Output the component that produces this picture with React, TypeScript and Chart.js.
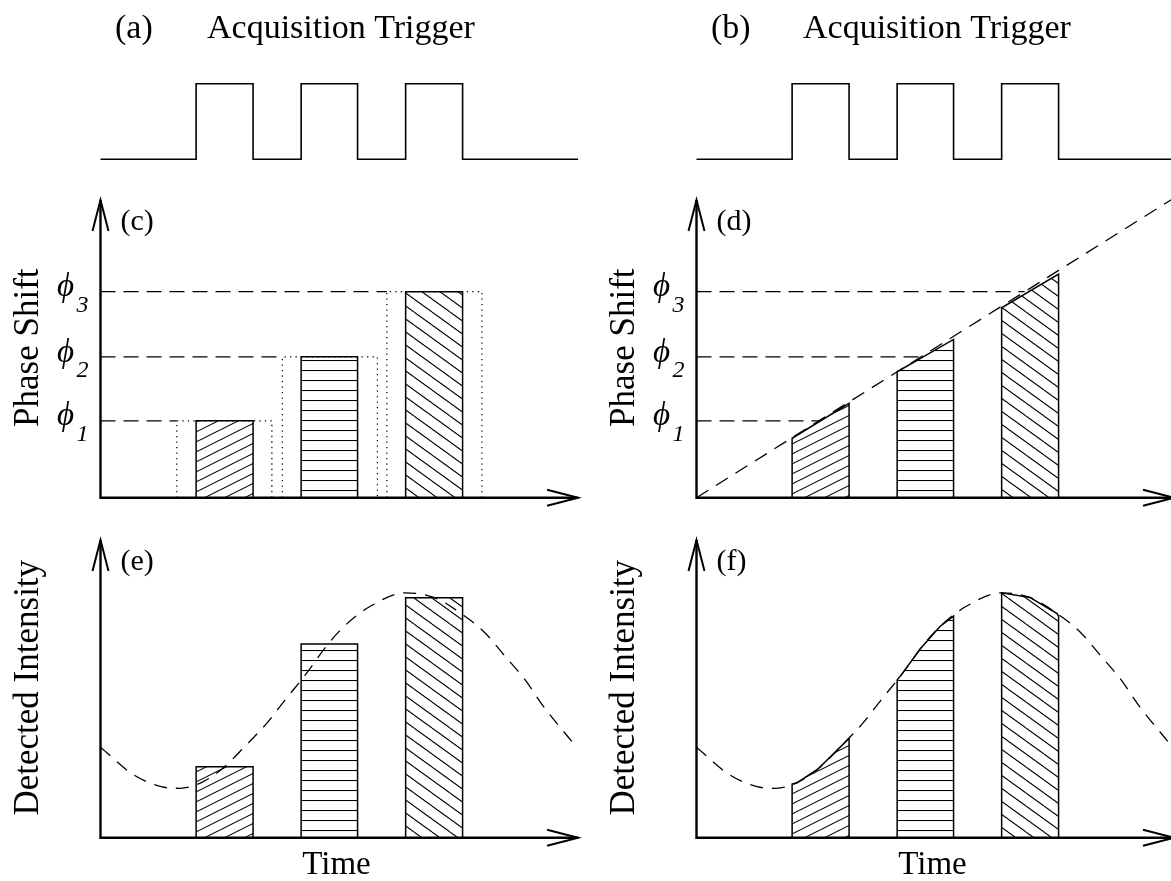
import React, { useEffect, useRef } from 'react';
import { Chart, registerables } from 'chart.js';

Chart.register(...registerables);

// ---------------- Data ----------------
const panelLetters = ['(a)', '(b)', '(c)', '(d)', '(e)', '(f)'];
const triggerTitle = 'Acquisition Trigger';
const phaseAxisTitle = 'Phase Shift';
const intensityAxisTitle = 'Detected Intensity';
const timeAxisTitle = 'Time';
const phaseSymbol = 'ϕ';
const phaseSubscripts = ['1', '2', '3'];

// acquisition trigger pulses (time units)
const pulseStart = [0.915, 1.92, 2.92];
const pulseEnd = [1.46, 2.46, 3.465];
const triggerEnd = 4.57;

// phase levels and (c) acquisition windows
const phaseLevels = [1.19, 2.18, 3.19];
const windowStart = [0.73, 1.74, 2.74];
const windowEnd = [1.64, 2.65, 3.65];

// (d) continuous phase ramp
const phaseRampT = [0, 4.57];
const phaseRampY = [0, 4.64];
const phaseRampCross = [1.17, 2.15, 3.14];
const rampTopStart = [0.92, 1.95, 2.94];
const rampTopEnd = [1.46, 2.45, 3.46];

// detected intensity curve
const curveT = [0.0, 0.32, 0.58, 0.76, 0.96, 1.16, 1.38, 1.59, 1.77, 1.96, 2.14, 2.33, 2.59, 2.92, 3.19, 3.45, 3.68, 3.86, 4.06, 4.24, 4.51];
const curveI = [1.40, 0.97, 0.79, 0.765, 0.85, 1.06, 1.41, 1.77, 2.14, 2.52, 2.92, 3.27, 3.59, 3.79, 3.72, 3.47, 3.17, 2.83, 2.45, 2.03, 1.49];

// (e) integrated intensities, (f) curve values at the pulse edges
const averagedIntensity = [1.10, 3.00, 3.715];
const edgeIntensityStart = [0.83, 2.44, 3.79];
const edgeIntensityEnd = [1.54, 3.43, 3.43];

const axisEndT = 4.57;
const axisEndY = 4.61;

// ---------------- Layout ----------------
const CANVAS_W = 1200;
const CANVAS_H = 881;
const COL_X = [100.5, 696.5];
const PX_T = 104.5;
const PX_Y = 64.6;
const X_MAX = 4.7;
const Y_MAX = 4.75;
const TRIG_LOW_Y = 159.3;
const TRIG_HIGH_Y = 83.7;
const PHASE_BASE_Y = 497.7;
const INT_BASE_Y = 837.7;
const TITLE_BASELINE = 38.3;
const SERIF = '"Liberation Serif", "Times New Roman", serif';
const ARROW_L = 31;
const ARROW_S = 8;

type Kind = 'trigger' | 'phase' | 'intensity';

function hatch(kind: 'up' | 'down' | 'flat'): CanvasPattern {
  const c = document.createElement('canvas');
  let w = 8;
  let h = 10;
  if (kind === 'up') { w = 20; h = 10; }
  if (kind === 'down') { w = 18; h = 13; }
  c.width = w;
  c.height = h;
  const g = c.getContext('2d')!;
  g.strokeStyle = '#000';
  g.lineWidth = 1.1;
  g.beginPath();
  if (kind === 'flat') {
    g.moveTo(0, 0.5);
    g.lineTo(w, 0.5);
  } else if (kind === 'up') {
    for (const o of [-h, 0, h]) { g.moveTo(0, h + o); g.lineTo(w, o); }
  } else {
    for (const o of [-h, 0, h]) { g.moveTo(0, o); g.lineTo(w, h + o); }
  }
  g.stroke();
  return g.createPattern(c, 'repeat')!;
}

function pts(xs: number[], ys: number[]) {
  return xs.map((x, i) => ({ x, y: ys[i] }));
}

function decorPlugin(kind: Kind, letter: string) {
  return {
    id: 'decor',
    afterDatasetsDraw(chart: any) {
      const ctx: CanvasRenderingContext2D = chart.ctx;
      const xs = chart.scales.x;
      const ys = chart.scales.y;
      const ox = xs.getPixelForValue(0);
      const oy = ys.getPixelForValue(0);
      ctx.save();
      ctx.fillStyle = '#000';
      ctx.strokeStyle = '#000';
      if (kind === 'trigger') {
        ctx.font = `34px ${SERIF}`;
        ctx.textAlign = 'left';
        ctx.textBaseline = 'alphabetic';
        ctx.fillText(letter, ox + 14.5, TITLE_BASELINE);
        ctx.fillText(triggerTitle, ox + 106.5, TITLE_BASELINE);
        ctx.restore();
        return;
      }
      const ex = xs.getPixelForValue(axisEndT);
      const ey = ys.getPixelForValue(axisEndY);
      ctx.lineWidth = 2.4;
      ctx.lineJoin = 'miter';
      ctx.beginPath();
      ctx.moveTo(ox, ey);
      ctx.lineTo(ox, oy);
      ctx.lineTo(ex, oy);
      ctx.stroke();
      ctx.lineWidth = 2;
      ctx.beginPath();
      ctx.moveTo(ex - ARROW_L, oy - ARROW_S);
      ctx.lineTo(ex, oy);
      ctx.lineTo(ex - ARROW_L, oy + ARROW_S);
      ctx.stroke();
      ctx.beginPath();
      ctx.moveTo(ox - ARROW_S, ey + ARROW_L);
      ctx.lineTo(ox, ey);
      ctx.lineTo(ox + ARROW_S, ey + ARROW_L);
      ctx.stroke();

      ctx.font = `30px ${SERIF}`;
      ctx.textAlign = 'left';
      ctx.textBaseline = 'middle';
      ctx.fillText(letter, ox + 20, oy - 275.7);

      ctx.save();
      ctx.translate(ox - 62.5, oy - 150);
      ctx.rotate(-Math.PI / 2);
      ctx.textAlign = 'center';
      ctx.textBaseline = 'alphabetic';
      ctx.font = `35px ${SERIF}`;
      ctx.fillText(kind === 'phase' ? phaseAxisTitle : intensityAxisTitle, 0, 0);
      ctx.restore();

      if (kind === 'phase') {
        phaseLevels.forEach((v, i) => {
          const py = ys.getPixelForValue(v);
          ctx.font = `italic 33px ${SERIF}`;
          ctx.textAlign = 'center';
          ctx.textBaseline = 'middle';
          ctx.fillText(phaseSymbol, ox - 35, py - 4);
          ctx.font = `italic 24px ${SERIF}`;
          ctx.textAlign = 'left';
          ctx.textBaseline = 'alphabetic';
          ctx.fillText(phaseSubscripts[i], ox - 24, py + 20);
        });
      } else {
        ctx.font = `33px ${SERIF}`;
        ctx.textAlign = 'center';
        ctx.textBaseline = 'alphabetic';
        ctx.fillText(timeAxisTitle, ox + 236, oy + 36.5);
      }
      ctx.restore();
    },
  };
}

function buildDatasets(kind: Kind, col: number): any[] {
  const patterns = [hatch('up'), hatch('flat'), hatch('down')];
  const barStyle = (k: number) => ({
    fill: 'origin',
    backgroundColor: patterns[k],
    borderColor: '#000',
    borderWidth: 1.5,
    tension: 0,
    pointRadius: 0,
  });
  const dashStyle = (dash: number[]) => ({
    fill: false,
    borderColor: '#000',
    borderWidth: 1.3,
    borderDash: dash,
    pointRadius: 0,
    tension: 0,
  });
  const ds: any[] = [];
  if (kind === 'trigger') {
    const tx: number[] = [0];
    const ty: number[] = [0];
    pulseStart.forEach((s, i) => {
      tx.push(s, s, pulseEnd[i], pulseEnd[i]);
      ty.push(0, 1, 1, 0);
    });
    tx.push(triggerEnd);
    ty.push(0);
    ds.push({ data: pts(tx, ty), borderColor: '#000', borderWidth: 1.6, pointRadius: 0, fill: false, tension: 0, clip: false });
    return ds;
  }
  if (kind === 'phase') {
    if (col === 0) {
      pulseStart.forEach((s, k) => {
        const h = phaseLevels[k];
        ds.push({ ...barStyle(k), data: pts([s, s, pulseEnd[k], pulseEnd[k]], [0, h, h, 0]) });
      });
      windowStart.forEach((ws, k) => {
        const h = phaseLevels[k];
        ds.push({ ...dashStyle([1.3, 4.2]), borderWidth: 1.2, data: pts([ws, ws, windowEnd[k], windowEnd[k]], [0, h, h, 0]) });
        ds.push({ ...dashStyle([15, 8]), data: pts([0, ws], [h, h]) });
      });
    } else {
      pulseStart.forEach((s, k) => {
        ds.push({ ...barStyle(k), data: pts([s, s, pulseEnd[k], pulseEnd[k]], [0, rampTopStart[k], rampTopEnd[k], 0]) });
      });
      ds.push({ ...dashStyle([14, 9]), data: pts(phaseRampT, phaseRampY) });
      phaseLevels.forEach((h, k) => {
        ds.push({ ...dashStyle([15, 8]), data: pts([0, phaseRampCross[k]], [h, h]) });
      });
    }
    return ds;
  }
  // intensity
  ds.push({ ...dashStyle([13, 9]), data: pts(curveT, curveI), cubicInterpolationMode: 'monotone' });
  pulseStart.forEach((s, k) => {
    const e = pulseEnd[k];
    if (col === 0) {
      const h = averagedIntensity[k];
      ds.push({ ...barStyle(k), data: pts([s, s, e, e], [0, h, h, 0]) });
    } else {
      const bx: number[] = [s, s];
      const by: number[] = [0, edgeIntensityStart[k]];
      curveT.forEach((t, i) => {
        if (t > s + 0.01 && t < e - 0.01) { bx.push(t); by.push(curveI[i]); }
      });
      bx.push(e, e);
      by.push(edgeIntensityEnd[k], 0);
      ds.push({ ...barStyle(k), data: pts(bx, by) });
    }
  });
  return ds;
}

function Panel({ kind, col, letter }: { kind: Kind; col: number; letter: string }) {
  const ref = useRef<HTMLCanvasElement>(null);
  useEffect(() => {
    const canvas = ref.current!;
    const left = COL_X[col];
    const right = left + X_MAX * PX_T;
    let top: number;
    let bottom: number;
    let yMin = 0;
    let yMax = Y_MAX;
    if (kind === 'trigger') {
      top = TRIG_HIGH_Y;
      bottom = TRIG_LOW_Y;
      yMax = 1;
    } else {
      bottom = kind === 'phase' ? PHASE_BASE_Y : INT_BASE_Y;
      top = bottom - Y_MAX * PX_Y;
    }
    const chart = new Chart(canvas, {
      type: 'line',
      data: { datasets: buildDatasets(kind, col) },
      options: {
        animation: false,
        responsive: false,
        devicePixelRatio: 1,
        layout: { padding: { left, top, right: CANVAS_W - right, bottom: CANVAS_H - bottom } },
        scales: {
          x: { type: 'linear', min: 0, max: X_MAX, display: false },
          y: { type: 'linear', min: yMin, max: yMax, display: false },
        },
        plugins: { legend: { display: false }, tooltip: { enabled: false }, title: { display: false } },
        elements: { point: { radius: 0 } },
        events: [],
      } as any,
      plugins: [decorPlugin(kind, letter)],
    });
    return () => chart.destroy();
  }, [kind, col, letter]);
  return (
    <canvas
      ref={ref}
      width={CANVAS_W}
      height={CANVAS_H}
      style={{ position: 'absolute', left: 0, top: 0, width: CANVAS_W, height: CANVAS_H }}
    />
  );
}

export default function App() {
  return (
    <div style={{ position: 'absolute', left: 0, top: 0, width: 1171, height: 881, overflow: 'hidden', background: '#fff' }}>
      <Panel kind="trigger" col={0} letter={panelLetters[0]} />
      <Panel kind="trigger" col={1} letter={panelLetters[1]} />
      <Panel kind="phase" col={0} letter={panelLetters[2]} />
      <Panel kind="phase" col={1} letter={panelLetters[3]} />
      <Panel kind="intensity" col={0} letter={panelLetters[4]} />
      <Panel kind="intensity" col={1} letter={panelLetters[5]} />
    </div>
  );
}
